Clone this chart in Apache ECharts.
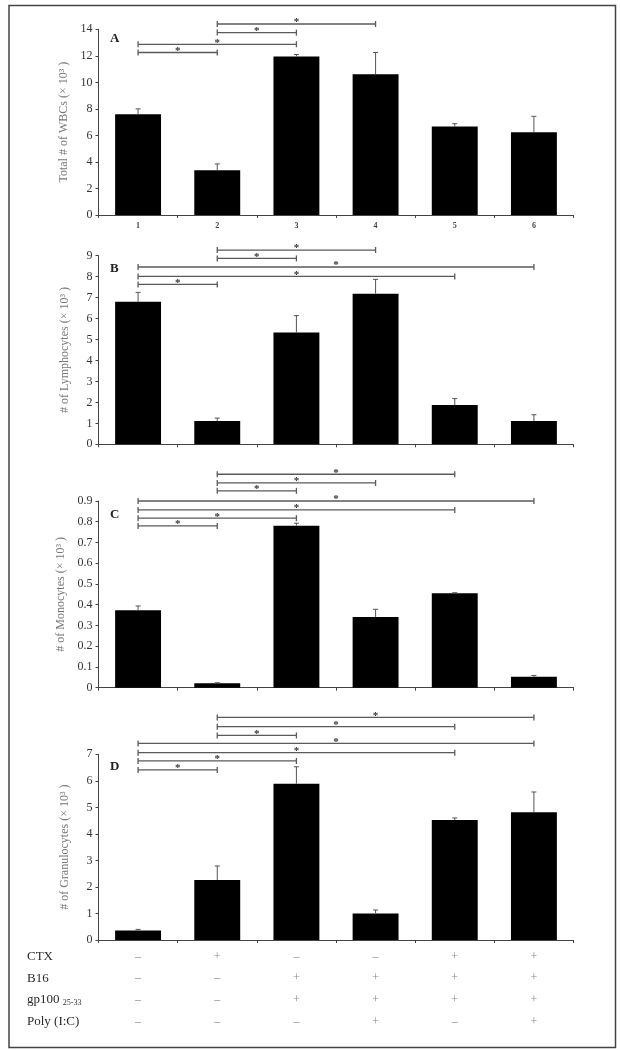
<!DOCTYPE html>
<html><head><meta charset="utf-8">
<script src="https://cdn.jsdelivr.net/npm/echarts@6/dist/echarts.min.js"></script>
<style>html,body{margin:0;padding:0;background:#fff}#c{width:620px;height:1050px}</style>
</head><body><div id="c"></div>
<script>
// ---- data ----
const groups = ['1', '2', '3', '4', '5', '6'];

const wbcMean = [7.6, 3.38, 11.95, 10.62, 6.68, 6.24];
const wbcSem  = [0.4, 0.47, 0.15, 1.63, 0.2, 1.2];
const wbcSig  = [[1, 3, 14.4], [1, 2, 13.75], [0, 2, 12.87], [0, 1, 12.25]];

const lymMean = [6.8, 1.11, 5.34, 7.19, 1.87, 1.11];
const lymSem  = [0.45, 0.14, 0.8, 0.68, 0.31, 0.3];
const lymSig  = [[1, 3, 9.27], [1, 2, 8.87], [0, 5, 8.46], [0, 4, 8.01], [0, 1, 7.63]];

const monoMean = [0.373, 0.021, 0.781, 0.341, 0.455, 0.053];
const monoSem  = [0.021, 0.003, 0.012, 0.037, 0.003, 0.006];
const monoSig  = [[1, 4, 1.029], [1, 3, 0.987], [1, 2, 0.949], [0, 5, 0.9], [0, 4, 0.857], [0, 2, 0.817], [0, 1, 0.78]];

const granMean = [0.36, 2.26, 5.89, 1.0, 4.52, 4.82];
const granSem  = [0.04, 0.53, 0.64, 0.13, 0.08, 0.76];
const granSig  = [[1, 5, 8.39], [1, 4, 8.04], [1, 2, 7.71], [0, 5, 7.41], [0, 4, 7.06], [0, 2, 6.75], [0, 1, 6.41]];

const yTicksA = {min: 0, max: 14, interval: 2};
const yTicksB = {min: 0, max: 9, interval: 1};
const yTicksC = {min: 0, max: 0.9, interval: 0.1};
const yTicksD = {min: 0, max: 7, interval: 1};

const rowLabels = ['CTX', 'B16', 'gp100 {sub|25-33}', 'Poly (I:C)'];
const ctxRow  = ['–', '+', '–', '–', '+', '+'];
const b16Row  = ['–', '–', '+', '+', '+', '+'];
const gpRow   = ['–', '–', '+', '+', '+', '+'];
const polyRow = ['–', '–', '–', '+', '–', '+'];

// ---- chart ----
const FONT = '"Liberation Serif", "DejaVu Serif", serif';
const panels = [
  {mean: wbcMean, sem: wbcSem, sig: wbcSig, ticks: yTicksA, name: 'Total # of WBCs (× 10³ )', letter: 'A', top: 29.3, h: 185.7, xlab: true},
  {mean: lymMean, sem: lymSem, sig: lymSig, ticks: yTicksB, name: '# of Lymphocytes (× 10³ )', letter: 'B', top: 255.7, h: 188.6, xlab: false},
  {mean: monoMean, sem: monoSem, sig: monoSig, ticks: yTicksC, name: '# of Monocytes (× 10³ )', letter: 'C', top: 501, h: 186.7, xlab: false},
  {mean: granMean, sem: granSem, sig: granSig, ticks: yTicksD, name: '# of Granulocytes (× 10³ )', letter: 'D', top: 754.3, h: 185.7, xlab: false}
];
const LEFT = 98.5, RIGHT = 46.5;

const grid = [], xAxis = [], yAxis = [], series = [], graphic = [];

function errItem(params, api) {
  const x = api.value(0), m = api.value(1), e = api.value(2);
  const p0 = api.coord([x, m]), p1 = api.coord([x, m + e]);
  return {type: 'group', children: [
    {type: 'line', shape: {x1: p0[0], y1: p0[1], x2: p1[0], y2: p1[1]}, style: {stroke: '#555', lineWidth: 1}},
    {type: 'line', shape: {x1: p1[0] - 2.5, y1: p1[1], x2: p1[0] + 2.5, y2: p1[1]}, style: {stroke: '#555', lineWidth: 1}}
  ]};
}
function sigItem(params, api) {
  const a = api.coord([api.value(0), api.value(2)]);
  const b = api.coord([api.value(1), api.value(2)]);
  const st = {stroke: '#5a5a5a', lineWidth: 1.3};
  return {type: 'group', children: [
    {type: 'line', shape: {x1: a[0], y1: a[1], x2: b[0], y2: b[1]}, style: st},
    {type: 'line', shape: {x1: a[0], y1: a[1] - 3, x2: a[0], y2: a[1] + 3}, style: st},
    {type: 'line', shape: {x1: b[0], y1: b[1] - 3, x2: b[0], y2: b[1] + 3}, style: st},
    {type: 'text', style: {text: '*', x: (a[0] + b[0]) / 2, y: a[1] - 1.5, textAlign: 'center', align: 'center',
      textVerticalAlign: 'middle', verticalAlign: 'middle', font: 'bold 11px ' + FONT, fill: '#333'}}
  ]};
}

panels.forEach((p, i) => {
  grid.push({left: LEFT, right: RIGHT, top: p.top, height: p.h});
  xAxis.push({
    type: 'category', gridIndex: i, data: groups,
    axisLine: {lineStyle: {color: '#444', width: 1}},
    axisTick: {show: true, length: 3, lineStyle: {color: '#444'}},
    axisLabel: {show: p.xlab, fontFamily: FONT, fontSize: 8, fontWeight: 'bold', color: '#444', margin: 7}
  });
  yAxis.push({
    type: 'value', gridIndex: i, min: p.ticks.min, max: p.ticks.max, interval: p.ticks.interval,
    splitLine: {show: false},
    axisLine: {show: true, lineStyle: {color: '#444', width: 1}},
    axisTick: {show: true, length: 3, lineStyle: {color: '#444'}},
    axisLabel: {fontFamily: FONT, fontSize: 12, color: '#333', margin: 6},
    name: p.name, nameLocation: 'middle', nameGap: 28,
    nameTextStyle: {fontFamily: FONT, fontSize: 12, color: '#777'}
  });
  series.push({
    type: 'bar', xAxisIndex: i, yAxisIndex: i, data: p.mean, barWidth: '58%',
    itemStyle: {color: '#000'}, silent: true, z: 2
  });
  series.push({
    type: 'custom', xAxisIndex: i, yAxisIndex: i, renderItem: errItem, z: 3, silent: true,
    data: p.mean.map((m, k) => [k, m, p.sem[k]]), encode: {x: 0, y: 1}
  });
  series.push({
    type: 'custom', xAxisIndex: i, yAxisIndex: i, renderItem: sigItem, z: 4, silent: true, clip: false,
    data: p.sig, encode: {x: [0, 1], y: 2}
  });
  graphic.push({type: 'text', left: 110, top: p.top + [2.5, 6, 7.5, 6][i],
    style: {text: p.letter, font: 'bold 13px ' + FONT, fill: '#222'}});
});

// treatment table
const rows = [ctxRow, b16Row, gpRow, polyRow];
grid.push({left: LEFT, right: RIGHT, top: 956.5, height: 65});
xAxis.push({type: 'category', gridIndex: 4, data: groups, show: false});
yAxis.push({
  type: 'category', gridIndex: 4, data: rowLabels, inverse: true, boundaryGap: false,
  axisLine: {show: false}, axisTick: {show: false},
  axisLabel: {align: 'left', margin: 71.5, fontFamily: FONT, fontSize: 13, color: '#2a2a2a',
    rich: {sub: {fontFamily: FONT, fontSize: 8, color: '#333', verticalAlign: 'bottom', padding: [6, 0, 0, 0]}}}
});
const tableData = [];
rows.forEach((r, ri) => r.forEach((s, ci) => tableData.push([ci, ri, s === '+' ? 1 : 0])));
series.push({
  type: 'custom', xAxisIndex: 4, yAxisIndex: 4, silent: true,
  data: tableData, encode: {x: 0, y: 1},
  renderItem: (params, api) => {
    const pt = api.coord([api.value(0), api.value(1)]);
    return {type: 'text', style: {text: api.value(2) === 1 ? '+' : '–', x: pt[0], y: pt[1],
      textAlign: 'center', align: 'center', textVerticalAlign: 'middle', verticalAlign: 'middle',
      font: '12px ' + FONT, fill: '#8a8a8a'}};
  }
});

graphic.push({type: 'rect', left: 6.5, top: 3, shape: {width: 606.5, height: 1042},
  style: {fill: 'none', stroke: '#444', lineWidth: 1.5}, silent: true});

const chart = echarts.init(document.getElementById('c'), null, {renderer: 'canvas'});
chart.setOption({animation: false, backgroundColor: '#fff', grid, xAxis, yAxis, series, graphic});
</script>
</body></html>
